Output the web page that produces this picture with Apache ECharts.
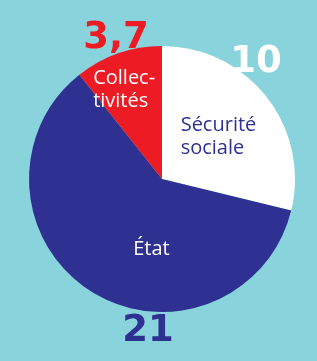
<!DOCTYPE html>
<html>
<head>
    <meta charset="utf-8">
    <title>Dette publique</title>
    <script src="https://cdn.jsdelivr.net/npm/echarts@6/dist/echarts.min.js"></script>
    <style>
        html, body { margin: 0; padding: 0; background: #89d3dc; }
        #chart { width: 317px; height: 361px; }
    </style>
</head>
<body>
<div id="chart"></div>
<script type="text/javascript">
    // données : dans le sens horaire à partir de midi
    var names = ['Sécurité sociale', 'État', 'Collectivités'];
    var labels = ['Sécurité\nsociale', 'État', 'Collec-\ntivités'];
    var values = [10, 21, 3.7];
    var colors = ['#ffffff', '#2e3192', '#ed1c24'];
    var labelColors = ['#2e3192', '#ffffff', '#ffffff'];
    var valueColors = ['#ffffff', '#2e3192', '#ed1c24'];

    // décalages des étiquettes (texte intérieur / chiffres extérieurs)
    var nameShift = [[-36, 1], [27, 12], [-46, -24]];
    var nameAlign = ['left', 'center', 'left'];
    var valuePos = [[256, 62], [148, 331], [116, 38]];

    var myChart = echarts.init(document.getElementById('chart'));

    var pieData = values.map(function (v, i) {
        return {
            name: names[i],
            value: v,
            itemStyle: { color: colors[i] },
            label: { color: labelColors[i] }
        };
    });

    myChart.setOption({
        backgroundColor: '#89d3dc',
        animation: false,
        series: [
            {
                type: 'pie',
                center: [162, 179],
                radius: 133,
                startAngle: 90,
                clockwise: true,
                data: pieData,
                itemStyle: { borderWidth: 0 },
                label: {
                    position: 'inside',
                    fontFamily: 'Open Sans',
                    fontSize: 20,
                    lineHeight: 23,
                    formatter: function (p) { return labels[p.dataIndex]; }
                },
                labelLine: { show: false },
                labelLayout: function (p) {
                    var s = nameShift[p.dataIndex];
                    return { dx: s[0], dy: s[1], align: nameAlign[p.dataIndex] };
                }
            }
        ],
        graphic: values.map(function (v, i) {
            return {
                type: 'text',
                x: valuePos[i][0],
                y: valuePos[i][1],
                style: {
                    text: String(v).replace('.', ','),
                    fill: valueColors[i],
                    font: 'bold 37px "DejaVu Sans"',
                    textAlign: 'center',
                    textVerticalAlign: 'middle'
                }
            };
        })
    });
</script>
</body>
</html>
